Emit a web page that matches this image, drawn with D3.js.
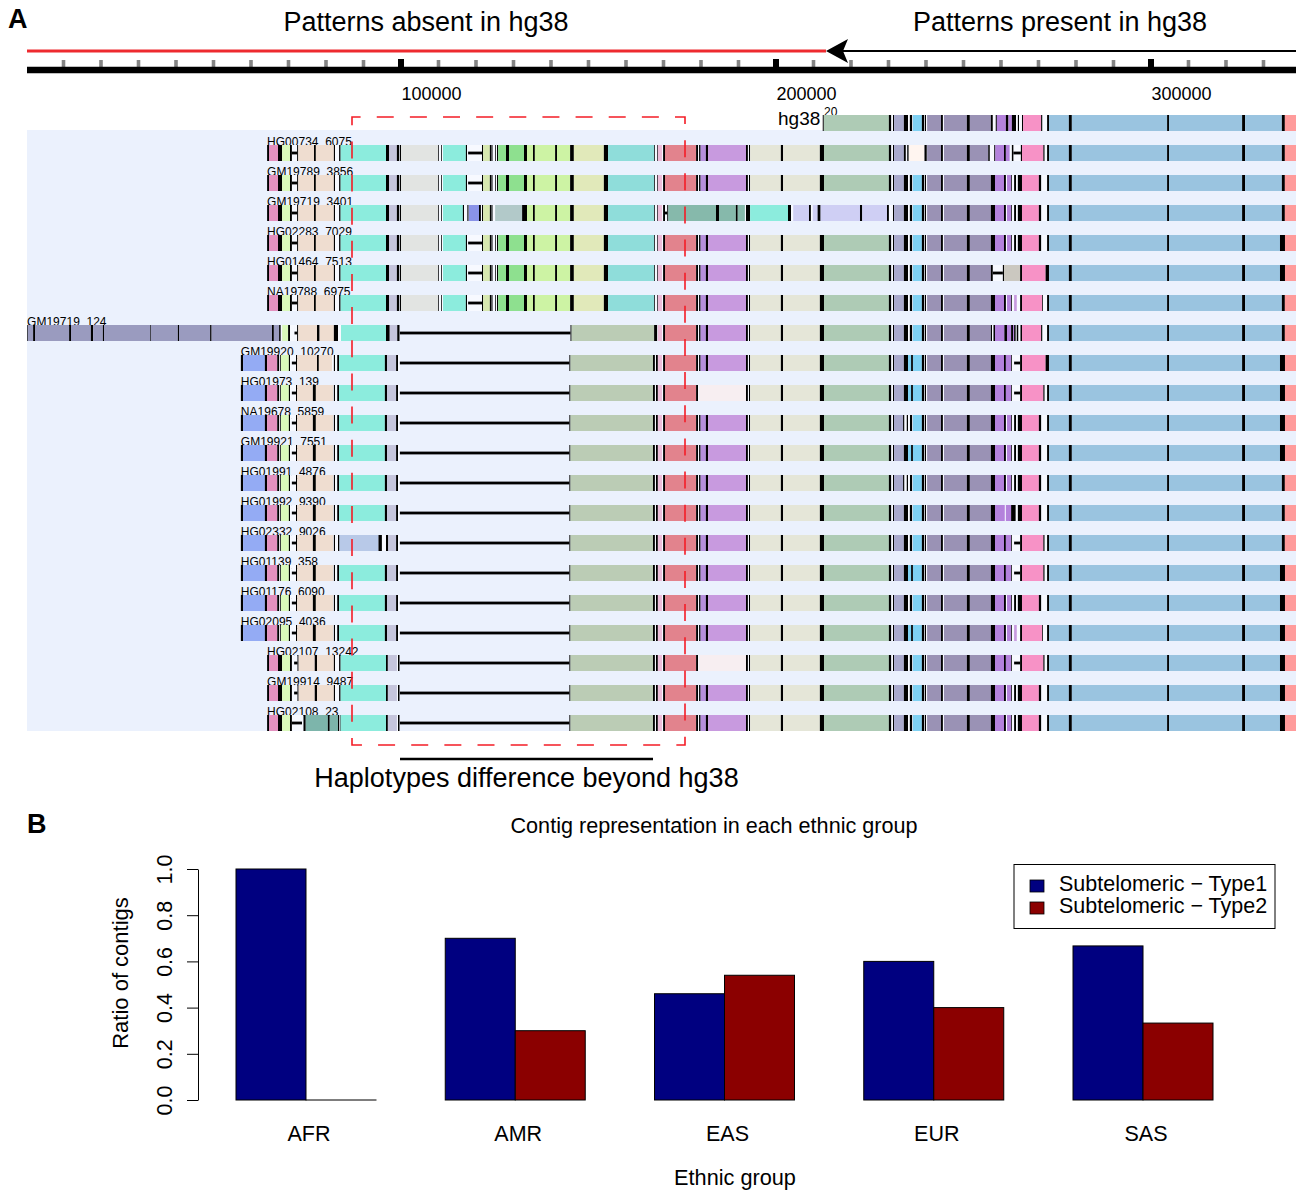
<!DOCTYPE html>
<html>
<head>
<meta charset="utf-8">
<script src="https://cdn.jsdelivr.net/npm/d3@7"></script>
<style>
  body { margin: 0; background: #fff; }
  text { font-family: "Liberation Sans", Arial, sans-serif; fill: #000; }
</style>
</head>
<body>
<svg id="chart" width="1296" height="1190"></svg>
<script>
////////////////////////////////////////////////////// DATA : PANEL A (positions in kb) //////////////////////////////////////
const rowLabels = ["HG00734_6075", "GM19789_3856", "GM19719_3401", "HG02283_7029", "HG01464_7513", "NA19788_6975",
  "GM19719_124", "GM19920_10270", "HG01973_139", "NA19678_5859", "GM19921_7551", "HG01991_4876", "HG01992_9390",
  "HG02332_9026", "HG01139_358", "HG01176_6090", "HG02095_4036", "HG02107_13242", "GM19914_9487", "HG02108_23"];

const majorTicks = [100, 200, 300];
const minorTicks = d3.range(10, 340, 10).filter(d => d % 100 !== 0);

const leftTop = [["k",64.3,64.8],["pink",64.8,67.2],["k",67.2,68.3],["lime",68.3,70.4],["k",70.4,70.9],["link",70.9,72.3],["k",72.3,72.6],
  ["peach",72.6,76.8],["k",76.8,77.3],["peach",77.3,82.1],["k",82.1,82.4],["k",83.5,83.9],["teal",83.9,96],["k",96,96.8],
  ["lav",96.8,98.9],["k",98.9,99.5],["k",99.7,100]];
const leftLong = [["k",0.3,0.5],["dusk2",0.5,1.9],["k",1.9,2.4],["dusk2",2.4,11.5],["k",11.5,12],["dusk2",12,17.3],["k",17.3,17.9],["dusk2",17.9,20.5],
  ["k",20.5,20.8],["dusk2",20.8,33.1],["k",33.1,33.3],["dusk2",33.3,40.5],["k",40.5,40.8],["dusk2",40.8,49.1],["k",49.1,49.5],["dusk2",49.5,65.6],
  ["k",65.6,66.1],["dusk2",66.1,67.5],["k",67.5,67.9],["lime",68.3,69.9],["k",69.9,70.4],["link",71.6,72.3],["k",72.3,72.6],
  ["peach",72.6,77.6],["k",77.6,78.3],["peach",78.3,82.1],["k",82.1,83.2],["teal",84,96],["k",96,97],["lav",97,99],["k",99,99.6]];
const leftMidHead = [["k",57.3,57.9],["peri",57.9,63.7],["k",63.7,64.3],["pink",64.3,67],["k",67,67.5],["k",67.8,68],["lime",68,70.1],["k",70.1,70.4],["link",70.9,72],["k",72,72.3]];
const peachEven = [["peach",72.3,76.5],["k",76.5,77.3],["peach",77.3,81.9]];
const peachLate = [["peach",72.3,77.6],["k",77.6,78.1],["peach",78.1,81.6]];
const leftMidTail = [["k",82.1,82.4],["k",83,83.5],["teal",83.5,95.7],["k",95.7,96.3],["lav",96.3,98.7],["k",98.7,99.2]];
const leftMidTailAlt = [["k",82.1,82.4],["k",83.2,83.6],["steel",83.6,94],["k",94,94.9],["k",96,96.6],["lav",96.6,98.7],["k",98.7,99.2]];
const leftLow = [["k",64.3,64.8],["pink",64.8,67.2],["k",67.2,68.3],["lime",68.3,70.4],["k",70.4,70.9],["link",71.5,72.4],["k",72.4,72.7],
  ["peach",72.7,77],["k",77,77.6],["peach",77.6,82.1],["k",82.1,82.4],["k",83.5,83.9],["teal",83.9,96],["k",96,96.5],["lav",96.5,98.9],["k",99.2,99.6]];
const leftLowAlt = [["k",64.3,64.8],["pink",64.8,67.2],["k",67.2,68.3],["lime",68.3,70.4],["k",70.4,70.9],["link",70.9,73.6],["k",74,74.6],
  ["dkteal",74.6,80.5],["k",80.5,81],["dkteal",81,83.2],["k",83.2,83.5],["k",83.7,83.9],["teal",83.9,96],["k",96,96.5],["lav",96.5,98.9],["k",99.2,99.6]];

const midTopHead = [["gray",100,109.9],["k",109.9,110.1],["k",110.7,110.9],["teal",111.2,117.3],["k",117.3,117.6],["link",117.9,121.6],["k",121.6,121.9],
  ["olive",121.9,123.7],["k",123.7,124],["k",124.1,124.4],["k",125.1,125.3],["k",125.6,125.9],["green",125.9,128],["k",128,128.8],["green",128.8,132.8],["k",132.8,133.6]];
const midThirdHead = [["gray",100,109.9],["k",109.9,110.1],["k",110.7,110.9],["teal",111.2,116.5],["k",116.5,116.8],["k",117.7,118],["blue",118.1,120.8],["k",120.8,121.3],["k",121.6,121.9],
  ["olive",121.9,123.7],["k",123.7,124],["k",124.1,124.4],["ggreen",125.1,132.3],["k",132.3,133.6]];
const midShared = [["lgreen",133.6,135.2],["k",135.2,135.7],["lgreen",135.7,141.1],["k",141.1,141.6],["lgreen",141.6,145.1],["k",145.1,146.1],
  ["pale",146.1,154.1],["k",154.1,155.2],["teal2",155.2,167.5],["k",167.5,167.7],["k",168.3,168.5]];
const midLine = [["link",99.7,144.9],["k",144.9,145.2],["sage2",145.2,167.2],["k",167.2,167.7],["k",168,168.5]];
const midLineLong = [["link",99.7,145.2],["k",145.2,145.5],["sage2",145.5,167.5],["k",167.5,168.3]];

const redSpan = [["pinkp",168.5,169.6],["k",169.9,170.4],["red",170.4,178.7],["k",178.7,179.2],["k",179.5,179.9],["purp",179.9,181.3],["k",181.3,181.9],["lpurp",181.9,192]];
const redPaleSpan = [["pinkp",168.5,169.6],["k",169.9,170.4],["red",170.4,178.7],["k",178.7,179.2],["blush",179.5,192]];
const beigeSpan = [["k",192,192.5],["k",192.8,193.1],["beige",193.1,201.3],["k",201.3,201.9],["beige",201.9,211.7],["k",211.7,212.8]];
const midThirdTail = [["pinkp",168.5,169.6],["k",169.9,170.4],["link",170.4,171],["k",171,171.3],["dkteal2",171.3,184],["k",184,184.8],["dkteal2",184.8,189.3],["k",189.3,189.8],["dkteal2",189.8,191.7],
  ["k",192,193.1],["teal",193.1,203.2],["k",203.2,204],["lavl",204.6,208.8],["k",208.8,209.3],["lavl",209.8,211.1],["k",211.1,211.9],["lavl",211.9,222.4],["k",222.4,223],["lavl",223,229.6],["k",229.6,230.1]];

const sageHead = [["sage",212.8,230.1],["k",230.1,230.7]];
const rightHead = [["k",231.2,231.5],["slate",231.5,234.1],["k",234.1,235.2],["k",235.7,236.3],["sky2",236.5,238.9],["k",238.9,239.5],["k",239.7,240],
  ["dusk",240.3,244],["k",244,244.5],["dusk",244.8,250.9],["k",250.9,251.7],["dusk",251.7,257.3]];
const rightHeadFirst = [["k",231.2,231.5],["slate",231.5,234.1],["k",234.1,234.6],["k",235,235.4],["shell",235.4,239.6],["k",239.6,240.2],
  ["dusk",240.3,244],["k",244,244.5],["dusk",244.8,250.9],["k",250.9,251.7],["dusk",251.7,256.6]];
const tailGap = [["k",257.3,258.4],["purple",258.4,260.8],["k",260.8,261.3],["purple",261.6,262.7],["k",262.7,262.9],["k",263.5,264],["k",264.5,265.6],["pink2",265.6,270.1],["k",270.1,270.7],["k",272.3,272.8]];
const tailPale = [["k",257.3,258.4],["purple",258.4,260.8],["k",260.8,261.3],["purple",261.6,262.7],["k",262.7,262.9],["lpurp",263.5,264.2],["k",265.1,265.6],["pink2",265.6,271],["k",271,271.2],["k",272.3,272.8]];
const tailThick = [["k",257.3,258.4],["purple",258.4,261],["purple",261.3,262.7],["k",262.7,263.9],["k",264.5,265.6],["pink2",265.6,270.1],["k",270.1,270.7],["k",272.3,272.8]];
const tailLink = [["k",257.3,258.4],["purple",258.4,260.8],["k",260.8,261.3],["purple",261.3,262.7],["k",262.7,262.9],["link",263.5,265.1],["k",265.1,265.6],["pink2",265.6,271.3],["k",271.3,271.6],["k",272.3,272.8]];
const tailLinkLate = [["k",257.3,258.4],["purple",258.4,260.8],["k",260.8,261.3],["purple",261.3,262.7],["k",262.7,262.9],["link",263.5,265.1],["k",265.1,265.6],["pink2",265.6,271.9],["k",271.9,272.8]];
const tailFirst = [["k",256.6,257],["k",258.2,258.5],["purple",258.5,260.8],["k",260.8,261.3],["purple",261.3,262.3],["k",262.9,263.3],["link",263.3,265.3],["k",265.3,265.6],["pink2",265.6,271.3],["k",271.3,271.6],["k",272.3,272.8]];
const tailAsh = [["k",257.3,257.8],["link",257.8,260.5],["k",260.5,260.8],["ash",260.8,265.1],["k",265.1,265.6],["pink2",265.6,271.9],["k",271.9,272.8]];
const tailRef = [["k",257.3,257.8],["k",258.6,258.9],["purple",258.9,261.3],["k",261.3,262],["purple",262,262.9],["k",262.9,264],["k",264.5,264.8],["k",265.6,265.9],["pink2",265.9,270.7],["k",270.7,271],["k",272.3,272.8]];
const tailDense = [["k",257.3,257.6],["k",258,258.4],["purple",258.4,260.9],["k",260.9,261.6],["purple",261.6,262.7],["k",262.7,263.2],["purple",263.2,263.5],["k",263.5,263.9],["k",264.2,264.6],["k",265.2,265.6],["pink2",265.6,270.7],["k",270.7,271],["k",272.3,272.8]];
const skyTail = [["sky",272.8,278.1],["k",278.1,278.9],["sky",278.9,304.3],["k",304.3,304.8],["sky",304.8,324.3],["k",324.3,325.1],["sky",325.1,334.9],["k",334.9,335.7],["salmon",335.7,338.7]];
const endBar = [["k",334.4,335.7]];
const skySliver = [["sky2",235.2,236.1],["k",236.1,236.5]];
const slateNotch = [["slate",231.5,233.9],["k",233.9,234.2],["void",234.2,234.9],["k",234.9,235.2],["void",235.2,235.7]];

// which pieces make up each contig, top to bottom
const hg38Pieces = [sageHead, rightHead, tailRef, skyTail];
const rowPieces = [
  [leftTop, midTopHead, midShared, redSpan, beigeSpan, sageHead, rightHeadFirst, tailFirst, skyTail],
  [leftTop, midTopHead, midShared, redSpan, beigeSpan, sageHead, rightHead, tailGap, skyTail],
  [leftTop, midThirdHead, midShared, midThirdTail, rightHead, tailGap, skyTail],
  [leftTop, midTopHead, midShared, redSpan, beigeSpan, sageHead, rightHead, tailGap, skyTail, endBar],
  [leftTop, midTopHead, midShared, redSpan, beigeSpan, sageHead, rightHead, tailAsh, skyTail, endBar],
  [leftTop, midTopHead, midShared, redSpan, beigeSpan, sageHead, rightHead, tailPale, skyTail],
  [leftLong, midLineLong, redSpan, beigeSpan, sageHead, rightHead, tailDense, skyTail],
  [leftMidHead, peachLate, leftMidTail, midLine, redSpan, beigeSpan, sageHead, rightHead, skySliver, tailLinkLate, skyTail, endBar],
  [leftMidHead, peachEven, leftMidTail, midLine, redPaleSpan, beigeSpan, sageHead, rightHead, skySliver, tailLink, skyTail, endBar],
  [leftMidHead, peachEven, leftMidTail, midLine, redSpan, beigeSpan, sageHead, rightHead, slateNotch, tailGap, skyTail, endBar],
  [leftMidHead, peachEven, leftMidTail, midLine, redSpan, beigeSpan, sageHead, rightHead, skySliver, tailGap, skyTail, endBar],
  [leftMidHead, peachEven, leftMidTail, midLine, redSpan, beigeSpan, sageHead, rightHead, slateNotch, tailGap, skyTail],
  [leftMidHead, peachEven, leftMidTail, midLine, redSpan, beigeSpan, sageHead, rightHead, tailThick, skyTail],
  [leftMidHead, peachEven, leftMidTailAlt, midLine, redSpan, beigeSpan, sageHead, rightHead, tailLink, skyTail],
  [leftMidHead, peachEven, leftMidTail, midLine, redSpan, beigeSpan, sageHead, rightHead, skySliver, tailLink, skyTail, endBar],
  [leftMidHead, peachEven, leftMidTail, midLine, redSpan, beigeSpan, sageHead, rightHead, tailGap, skyTail, endBar],
  [leftMidHead, peachEven, leftMidTail, midLine, redSpan, beigeSpan, sageHead, rightHead, skySliver, tailPale, skyTail, endBar],
  [leftLow, midLine, redPaleSpan, beigeSpan, sageHead, rightHead, tailLink, skyTail, endBar],
  [leftLow, midLine, redSpan, beigeSpan, sageHead, rightHead, tailGap, skyTail, endBar],
  [leftLowAlt, midLine, redSpan, beigeSpan, sageHead, rightHead, tailGap, skyTail, endBar]
];

////////////////////////////////////////////////////// DATA : PANEL B ////////////////////////////////////////////////////////
const ethnicGroups = ["AFR", "AMR", "EAS", "EUR", "SAS"];
const seriesNames = ["Subtelomeric \u2212 Type1", "Subtelomeric \u2212 Type2"];
const type1Values = [1.0, 0.7, 0.46, 0.6, 0.667];
const type2Values = [0.0, 0.3, 0.54, 0.4, 0.333];
const ratioTicks = [0, 0.2, 0.4, 0.6, 0.8, 1.0];

////////////////////////////////////////////////////// STYLES ////////////////////////////////////////////////////////////////
const gapColor = "#f7f9ff";
const blockColor = {
  k: "#000", link: "#000", void: gapColor, pink: "#e391bf", lime: "#daf9bb", peach: "#efddd0", teal: "#8cecdd", lav: "#c5c5dc",
  dusk2: "#9a9bbf", peri: "#94abf4", steel: "#b8c9e8", dkteal: "#7db5ab", dkteal2: "#86b9ab", gray: "#e2e4e2",
  olive: "#d8e8b0", green: "#8ee08f", lgreen: "#cdf3a4", pale: "#e1e9ba", teal2: "#8fdddA", blue: "#8a93e8",
  ggreen: "#b2c9c9", sage2: "#bbccb5", pinkp: "#edbeda", red: "#e2838d", purp: "#b68edc", lpurp: "#c89adf",
  blush: "#f7eef1", beige: "#e5e6d8", lavl: "#cfcff4", sage: "#aecbb5", slate: "#a9a9cc", sky2: "#7fd1f3",
  shell: "#fff5f0", dusk: "#9a92b5", purple: "#b482dc", pink2: "#f792c6", ash: "#cbc8c0", sky: "#9ac4e0", salmon: "#ff9b9b"
};
const bandColor = "#ebf1fd";
const seriesColor = ["#000080", "#8b0000"];
const dashRed = "#f41c26";

const svg = d3.select("#chart");

////////////////////////////////////////////////////// SCALES ////////////////////////////////////////////////////////////////
const x = d3.scaleLinear().domain([0, 338.67]).range([26, 1296]);
const rowY = d3.scaleBand().domain(rowLabels).range([145, 731]).paddingInner(14 / 30).paddingOuter(0);

////////////////////////////////////////////////////// PANEL A ///////////////////////////////////////////////////////////////
svg.append("text").text("A").attr("x", 8).attr("y", 28).attr("font-size", 27).attr("font-weight", "bold");
svg.append("text").text("Patterns absent in hg38").attr("x", 426).attr("y", 31).attr("text-anchor", "middle").attr("font-size", 27);
svg.append("text").text("Patterns present in hg38").attr("x", 1060).attr("y", 31).attr("text-anchor", "middle").attr("font-size", 27);

// strand lines and arrow head
svg.append("line").attr("x1", 27).attr("x2", 826).attr("y1", 51).attr("y2", 51).attr("stroke", "#ee2a2f").attr("stroke-width", 3);
svg.append("line").attr("x1", 830).attr("x2", 1296).attr("y1", 51).attr("y2", 51).attr("stroke", "#000").attr("stroke-width", 2.2);
svg.append("path").attr("d", "M826,51L848,39L843,51L848,63Z").attr("fill", "#000");

// ruler
svg.append("g").attr("transform", "translate(0,67)")
  .call(d3.axisTop(x).offset(0).tickValues(minorTicks).tickSize(7).tickFormat(""))
  .call(g => g.select(".domain").remove())
  .call(g => g.selectAll("line").attr("stroke", "#858585").attr("stroke-width", 3.6));
svg.append("g").attr("transform", "translate(0,67)")
  .call(d3.axisTop(x).offset(0).tickValues(majorTicks).tickSize(8).tickFormat(""))
  .call(g => g.select(".domain").remove())
  .call(g => g.selectAll("line").attr("stroke", "#000").attr("stroke-width", 6));
svg.append("line").attr("x1", 27).attr("x2", 1296).attr("y1", 70).attr("y2", 70).attr("stroke", "#000").attr("stroke-width", 6.5);
svg.append("g").attr("transform", "translate(0,70)")
  .call(d3.axisBottom(x).tickValues(majorTicks).tickSize(0).tickPadding(17).tickFormat(d => d * 1000))
  .call(g => g.select(".domain").remove())
  .call(g => g.selectAll("text").attr("text-anchor", "start").attr("font-size", 18).attr("font-family", "Liberation Sans").attr("fill", "#000"));

// row band
svg.append("rect").attr("x", 27).attr("y", 130).attr("width", 1269).attr("height", 601).attr("fill", bandColor);

function drawContig(pieces, top, height) {
  const blocks = pieces.flat();
  const g = svg.append("g").attr("transform", "translate(0," + top + ")");
  // the small gaps inside a contig are paler than the band
  const fills = [];
  blocks.forEach((b, i) => {
    const next = blocks[i + 1];
    if (next && next[1] > b[2] && next[1] - b[2] < 3) fills.push([b[2], next[1]]);
    if (b[0] === "link" && b[2] - b[1] < 10) fills.push([b[1], b[2]]);
  });
  g.selectAll("rect.fill").data(fills).join("rect").attr("class", "fill")
    .attr("x", d => x(d[0])).attr("width", d => x(d[1]) - x(d[0]))
    .attr("y", 0).attr("height", height).attr("fill", gapColor);
  g.selectAll("rect.block").data(blocks).join("rect").attr("class", "block")
    .attr("x", d => x(d[1])).attr("width", d => x(d[2]) - x(d[1]))
    .attr("y", d => d[0] === "link" ? height / 2 - 1.4 : 0)
    .attr("height", d => d[0] === "link" ? 2.8 : height)
    .attr("fill", d => blockColor[d[0]]);
}

svg.append("text").text("hg38").attr("x", 778).attr("y", 125).attr("font-size", 19);
svg.append("text").text("20").attr("x", 824).attr("y", 116).attr("font-size", 12);
svg.append("line").attr("x1", x(212.6)).attr("x2", x(212.6)).attr("y1", 115).attr("y2", 131).attr("stroke", "#000");
drawContig(hg38Pieces, 115, 16);

rowLabels.forEach((label, i) => {
  const pieces = rowPieces[i];
  const start = d3.min(pieces.flat(), b => b[1]);
  // long contig label sits at the band edge, the rest at the contig start
  svg.append("text").text(label).attr("x", x(start)).attr("y", rowY(label) + 0.5).attr("font-size", 12).attr("fill", "#222");
  drawContig(pieces, rowY(label), rowY.bandwidth());
});

// dashed box round the difference
svg.append("rect").attr("x", 352).attr("y", 117).attr("width", 333).attr("height", 628)
  .attr("fill", "none").attr("stroke", dashRed).attr("stroke-width", 1.6)
  .attr("stroke-dasharray", "17 16.14").attr("stroke-dashoffset", 8.4);

svg.append("line").attr("x1", 400).attr("x2", 653).attr("y1", 759).attr("y2", 759).attr("stroke", "#000").attr("stroke-width", 2.4);
svg.append("text").text("Haplotypes difference beyond hg38").attr("x", 526.5).attr("y", 787).attr("text-anchor", "middle").attr("font-size", 27);

////////////////////////////////////////////////////// PANEL B ///////////////////////////////////////////////////////////////
svg.append("text").text("B").attr("x", 27).attr("y", 833).attr("font-size", 27).attr("font-weight", "bold");
svg.append("text").text("Contig representation in each ethnic group").attr("x", 714).attr("y", 833).attr("text-anchor", "middle").attr("font-size", 21.6);

const groupX = d3.scaleBand().domain(ethnicGroups).range([236, 1213]).paddingInner(0.331).paddingOuter(0);
const seriesX = d3.scaleBand().domain([0, 1]).range([0, groupX.bandwidth()]);
const ratioY = d3.scaleLinear().domain([0, 1]).range([1100, 869]);

[type1Values, type2Values].forEach((vals, s) => {
  svg.append("g").selectAll("rect").data(vals).join("rect")
    .attr("x", (d, i) => groupX(ethnicGroups[i]) + seriesX(s))
    .attr("width", seriesX.bandwidth())
    .attr("y", d => ratioY(d))
    .attr("height", d => Math.max(ratioY(0) - ratioY(d), 0.01))
    .attr("fill", seriesColor[s]).attr("stroke", "#000").attr("stroke-width", 1);
});

svg.append("g").attr("transform", "translate(198,0)")
  .call(d3.axisLeft(ratioY).tickValues(ratioTicks).tickSize(11).tickSizeOuter(0).tickFormat(d3.format(".1f")))
  .call(g => g.selectAll("path,line").attr("stroke", "#000").attr("stroke-width", 1))
  .call(g => g.selectAll("text").attr("font-size", 21.5).attr("font-family", "Liberation Sans").attr("fill", "#000")
    .attr("text-anchor", "middle").attr("dy", 0).attr("x", 0).attr("y", 0)
    .attr("transform", "translate(-26,0) rotate(-90)"));

svg.append("g").attr("transform", "translate(0,1100)")
  .call(d3.axisBottom(groupX).tickSize(0).tickPadding(26))
  .call(g => g.select(".domain").remove())
  .call(g => g.selectAll("text").attr("font-size", 21.5).attr("font-family", "Liberation Sans").attr("fill", "#000").attr("dx", 3));

svg.append("text").text("Ethnic group").attr("x", 735).attr("y", 1185).attr("text-anchor", "middle").attr("font-size", 21.7);
svg.append("text").text("Ratio of contigs").attr("transform", "translate(128,973) rotate(-90)").attr("text-anchor", "middle").attr("font-size", 22);

// legend
svg.append("rect").attr("x", 1014).attr("y", 864.5).attr("width", 261).attr("height", 64)
  .attr("fill", "#fff").attr("stroke", "#000").attr("stroke-width", 1);
seriesNames.forEach((name, s) => {
  svg.append("rect").attr("x", 1030).attr("y", 880 + s * 22).attr("width", 14).attr("height", 12)
    .attr("fill", seriesColor[s]).attr("stroke", "#000").attr("stroke-width", 0.8);
  svg.append("text").text(name).attr("x", 1059).attr("y", 891 + s * 22).attr("font-size", 21.5);
});
</script>
</body>
</html>
